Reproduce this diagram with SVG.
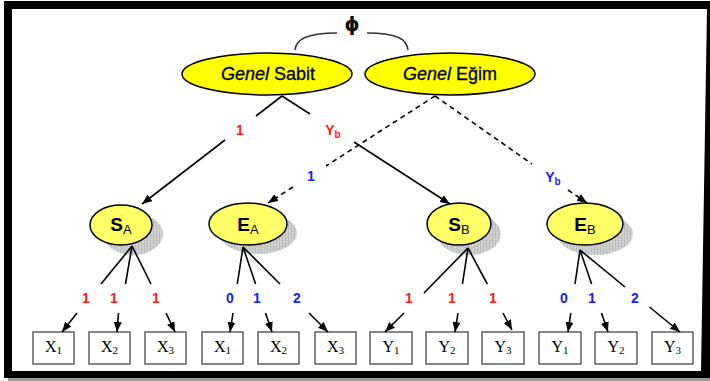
<svg xmlns="http://www.w3.org/2000/svg" width="710" height="381" viewBox="0 0 710 381">
  <style>
    .top { fill: #ffff00; stroke: #000; stroke-width: 1.5; }
    .lat { fill: #ffff66; stroke: #000; stroke-width: 1.5; }
    .shadow { fill: url(#hatch); }
    .box { fill: #fff; stroke: #555; stroke-width: 1.4; }
    .edge { stroke: #000; stroke-width: 1.6; fill: none; }
    .dash { stroke-dasharray: 5 4; }
    .arr { marker-end: url(#head); }
    .title { font-family: "Liberation Sans", Arial, sans-serif; font-size: 18px; fill: #000; stroke: #000; stroke-width: 0.3; text-anchor: middle; }
    .lv { font-family: "Liberation Sans", Arial, sans-serif; fill: #000; text-anchor: middle; }
    .obs { font-family: "Liberation Serif", "Times New Roman", serif; font-size: 16px; fill: #000; text-anchor: middle; }
    .sub { font-size: 11px; }
    .lab { font-family: "Liberation Sans", Arial, sans-serif; font-size: 14px; font-weight: bold; text-anchor: middle; }
    .red { fill: #ff1a1a; }
    .blue { fill: #1a1aff; }
  </style>
  <defs>
    <pattern id="hatch" width="3" height="3" patternUnits="userSpaceOnUse">
      <rect width="3" height="3" fill="#d4d4d4"/>
      <rect width="1" height="3" fill="#b8b8b8"/>
      <rect width="3" height="1" fill="#c4c4c4"/>
    </pattern>
    <marker id="head" markerWidth="11" markerHeight="9" refX="10" refY="4" orient="auto" markerUnits="userSpaceOnUse">
      <path d="M0,0 L10,4 L0,8 Z" fill="#000"/>
    </marker>
  </defs>

  <!-- page frame -->
  <rect x="0" y="0" width="710" height="381" fill="#fff"/>
  <rect x="8" y="377" width="702" height="4" fill="#9a9a9a"/>
  <path d="M4,1 H710 V378 H4 Z M12,9 L707,9 L701,371 L12,371 Z" fill="#000" fill-rule="evenodd"/>

  <!-- correlation between the general factors -->
  <g id="phi">
    <path d="M295,50 C296,40 305,33 337,33" fill="none" stroke="#333" stroke-width="1.5"/>
    <path d="M367,33 C399,33 407,40 408,50" fill="none" stroke="#333" stroke-width="1.5"/>
    <text x="352" y="31" font-family="DejaVu Sans, sans-serif" font-size="19" font-weight="bold" text-anchor="middle">ϕ</text>
  </g>

  <!-- general factors -->
  <g id="genel-sabit">
    <ellipse class="top" cx="267" cy="74" rx="85" ry="21"/>
    <text class="title" x="268" y="80"><tspan font-style="italic">Genel</tspan> Sabit</text>
  </g>
  <g id="genel-egim">
    <ellipse class="top" cx="450" cy="74" rx="85" ry="21"/>
    <text class="title" x="450" y="80"><tspan font-style="italic">Genel</tspan> Eğim</text>
  </g>

  <!-- domain factors -->
  <g id="SA">
    <ellipse class="shadow" cx="133" cy="234" rx="30" ry="21"/>
    <ellipse class="lat" cx="121" cy="225" rx="31" ry="20"/>
    <text class="lv" x="121" y="231"><tspan font-size="19" font-weight="bold">S</tspan><tspan font-size="13" dy="3">A</tspan></text>
  </g>
  <g id="EA">
    <ellipse class="shadow" cx="258" cy="233" rx="39" ry="21"/>
    <ellipse class="lat" cx="248" cy="224" rx="39" ry="21"/>
    <text class="lv" x="248" y="231"><tspan font-size="19" font-weight="bold">E</tspan><tspan font-size="13" dy="3">A</tspan></text>
  </g>
  <g id="SB">
    <ellipse class="shadow" cx="469" cy="234" rx="32" ry="21"/>
    <ellipse class="lat" cx="459" cy="224" rx="32" ry="21"/>
    <text class="lv" x="459" y="231"><tspan font-size="19" font-weight="bold">S</tspan><tspan font-size="13" dy="3">B</tspan></text>
  </g>
  <g id="EB">
    <ellipse class="shadow" cx="595" cy="234" rx="38" ry="21"/>
    <ellipse class="lat" cx="585" cy="224" rx="38" ry="21"/>
    <text class="lv" x="585" y="231"><tspan font-size="19" font-weight="bold">E</tspan><tspan font-size="13" dy="3">B</tspan></text>
  </g>

  <!-- observed indicators -->
  <g id="XA1"><rect class="box" x="33" y="332" width="41" height="32"/><text class="obs" x="53.5" y="352">X<tspan class="sub" dy="2">1</tspan></text></g>
  <g id="XA2"><rect class="box" x="89" y="332" width="41" height="32"/><text class="obs" x="109.5" y="352">X<tspan class="sub" dy="2">2</tspan></text></g>
  <g id="XA3"><rect class="box" x="145" y="332" width="41" height="32"/><text class="obs" x="165.5" y="352">X<tspan class="sub" dy="2">3</tspan></text></g>
  <g id="XE1"><rect class="box" x="202" y="332" width="41" height="32"/><text class="obs" x="222.5" y="352">X<tspan class="sub" dy="2">1</tspan></text></g>
  <g id="XE2"><rect class="box" x="258" y="332" width="41" height="32"/><text class="obs" x="278.5" y="352">X<tspan class="sub" dy="2">2</tspan></text></g>
  <g id="XE3"><rect class="box" x="315" y="332" width="41" height="32"/><text class="obs" x="335.5" y="352">X<tspan class="sub" dy="2">3</tspan></text></g>
  <g id="YB1"><rect class="box" x="370" y="332" width="42" height="32"/><text class="obs" x="391" y="352">Y<tspan class="sub" dy="2">1</tspan></text></g>
  <g id="YB2"><rect class="box" x="426" y="332" width="42" height="32"/><text class="obs" x="447" y="352">Y<tspan class="sub" dy="2">2</tspan></text></g>
  <g id="YB3"><rect class="box" x="482" y="332" width="42" height="32"/><text class="obs" x="503" y="352">Y<tspan class="sub" dy="2">3</tspan></text></g>
  <g id="YE1"><rect class="box" x="539" y="332" width="42" height="32"/><text class="obs" x="560" y="352">Y<tspan class="sub" dy="2">1</tspan></text></g>
  <g id="YE2"><rect class="box" x="595" y="332" width="42" height="32"/><text class="obs" x="616" y="352">Y<tspan class="sub" dy="2">2</tspan></text></g>
  <g id="YE3"><rect class="box" x="652" y="332" width="41" height="32"/><text class="obs" x="672.5" y="352">Y<tspan class="sub" dy="2">3</tspan></text></g>

  <!-- connectors: each split around its loading label -->
  <g id="connectors">
    <!-- general factors to domain factors -->
    <line class="edge" x1="282" y1="96" x2="256" y2="116"/>
    <line class="edge arr" x1="225" y1="140" x2="142" y2="204"/>
    <line class="edge" x1="282" y1="96" x2="310" y2="114"/>
    <line class="edge arr" x1="354" y1="142" x2="450" y2="204"/>
    <line class="edge dash" x1="435" y1="96" x2="326" y2="166"/>
    <line class="edge dash arr" x1="293" y1="187" x2="268" y2="203"/>
    <line class="edge dash" x1="435" y1="96" x2="532" y2="164"/>
    <line class="edge dash arr" x1="568" y1="190" x2="587" y2="203"/>

    <!-- S_A loadings -->
    <line class="edge" x1="132" y1="246" x2="101" y2="284"/>
    <line class="edge arr" x1="77" y1="313" x2="62" y2="332"/>
    <line class="edge" x1="132" y1="246" x2="125.5" y2="284"/>
    <line class="edge arr" x1="118.5" y1="313" x2="117" y2="332"/>
    <line class="edge" x1="132" y1="246" x2="151" y2="284"/>
    <line class="edge arr" x1="166" y1="313" x2="175" y2="332"/>

    <!-- E_A loadings -->
    <line class="edge" x1="243" y1="247" x2="237.3" y2="284"/>
    <line class="edge arr" x1="233" y1="313" x2="230" y2="332"/>
    <line class="edge" x1="243" y1="247" x2="255.6" y2="284"/>
    <line class="edge arr" x1="265.5" y1="313" x2="272" y2="332"/>
    <line class="edge" x1="243" y1="247" x2="280" y2="284"/>
    <line class="edge arr" x1="309" y1="313" x2="328" y2="332"/>

    <!-- S_B loadings -->
    <line class="edge" x1="468" y1="248" x2="424" y2="293"/>
    <line class="edge arr" x1="404" y1="313" x2="385" y2="332"/>
    <line class="edge" x1="468" y1="248" x2="462.4" y2="284"/>
    <line class="edge arr" x1="458" y1="313" x2="455" y2="332"/>
    <line class="edge" x1="468" y1="248" x2="487.3" y2="284"/>
    <line class="edge arr" x1="503" y1="313" x2="512" y2="330"/>

    <!-- E_B loadings -->
    <line class="edge" x1="580" y1="250" x2="575" y2="284"/>
    <line class="edge arr" x1="570.8" y1="313" x2="568" y2="332"/>
    <line class="edge" x1="580" y1="250" x2="591.6" y2="284"/>
    <line class="edge arr" x1="601.5" y1="313" x2="608" y2="332"/>
    <line class="edge" x1="580" y1="250" x2="625" y2="287"/>
    <line class="edge arr" x1="649.5" y1="307" x2="680" y2="332"/>

    <!-- loading labels -->
    <text class="lab red" x="240" y="135">1</text>
    <text class="lab red" x="333" y="135">Y<tspan font-size="10" dy="3">b</tspan></text>
    <text class="lab blue" x="311" y="181">1</text>
    <text class="lab blue" x="553" y="182">Y<tspan font-size="10" dy="3">b</tspan></text>

    <text class="lab red" x="86" y="303">1</text>
    <text class="lab red" x="114" y="303">1</text>
    <text class="lab red" x="156" y="303">1</text>
    <text class="lab blue" x="230" y="303">0</text>
    <text class="lab blue" x="257" y="303">1</text>
    <text class="lab blue" x="297" y="303">2</text>
    <text class="lab red" x="409" y="303">1</text>
    <text class="lab red" x="452" y="303">1</text>
    <text class="lab red" x="493" y="303">1</text>
    <text class="lab blue" x="564" y="303">0</text>
    <text class="lab blue" x="592" y="303">1</text>
    <text class="lab blue" x="635" y="303">2</text>
  </g>
</svg>
